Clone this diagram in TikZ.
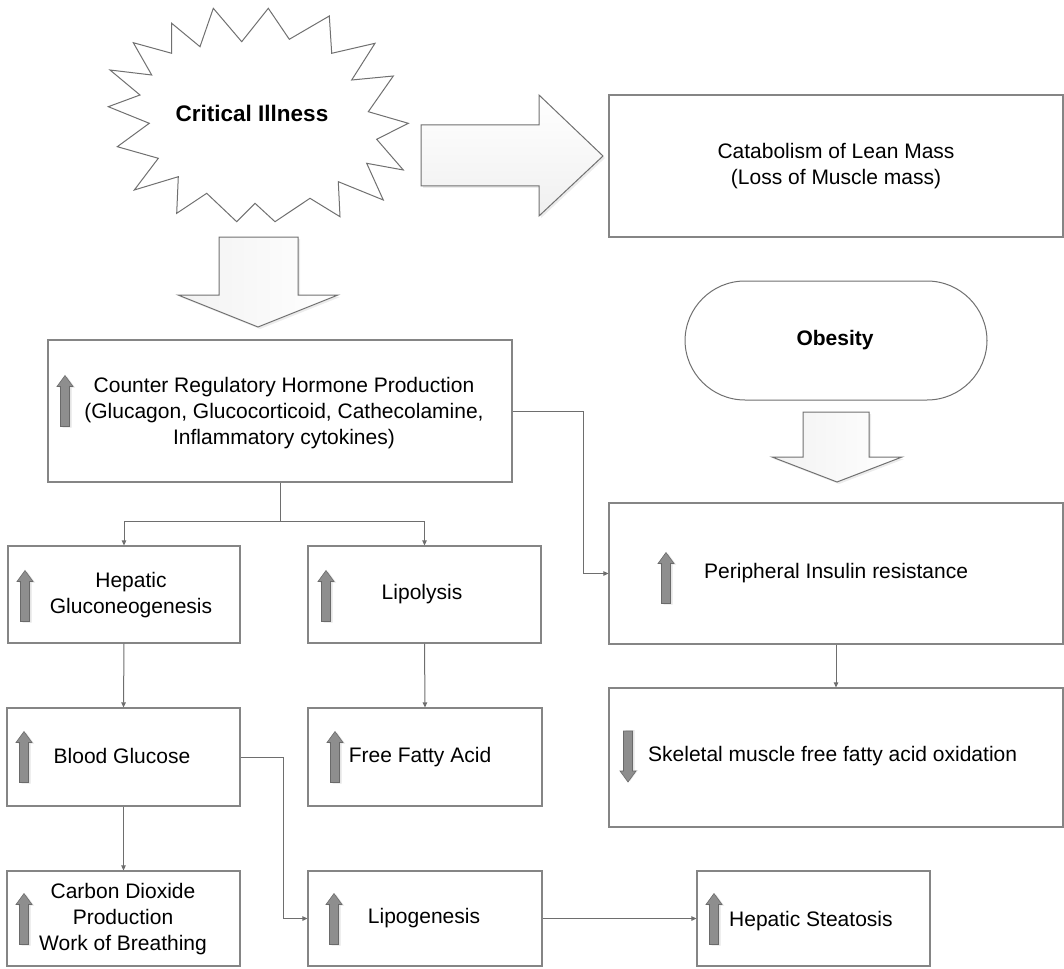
\documentclass[tikz,border=0pt]{standalone}
\usepackage{fontspec}
\setmainfont{Liberation Sans}
\usetikzlibrary{arrows.meta,shadows}
\definecolor{bord}{HTML}{858585}
\definecolor{lin}{HTML}{6E6E6E}
\definecolor{arrfill}{HTML}{8E8E8E}
\definecolor{arrdraw}{HTML}{6A6A6A}
\definecolor{bigdraw}{HTML}{707070}
\tikzset{
  box/.style={draw=bord, line width=1.2pt, fill=white, inner sep=0pt},
  txt/.style={align=center, inner sep=0pt, font=\fontsize{21}{26}\selectfont},
  conn/.style={draw=lin, line width=1pt, -{Triangle[length=5pt,width=4.5pt]}},
  plainconn/.style={draw=lin, line width=1pt},
  bigarrow/.style={draw=bigdraw, line width=1pt, drop shadow={shadow xshift=2pt, shadow yshift=-2pt, fill=gray!25, opacity=0.6}},
  uparr/.pic={
    \fill[gray!20] (-2.5,26.5) -- (-2.5,-13.5) -- (-6,-13.5) -- (2,-24.5) -- (10,-13.5) -- (6.5,-13.5) -- (6.5,26.5) -- cycle;
    \draw[draw=arrdraw, fill=arrfill, line width=0.6pt] (-4.5,25.5) -- (-4.5,-14.5) -- (-8,-14.5) -- (0,-25.5) -- (8,-14.5) -- (4.5,-14.5) -- (4.5,25.5) -- cycle;
  },
  downarr/.pic={
    \fill[gray!20] (-2.5,-26.5) -- (-2.5,13.5) -- (-6,13.5) -- (2,24.5) -- (10,13.5) -- (6.5,13.5) -- (6.5,-26.5) -- cycle;
    \draw[draw=arrdraw, fill=arrfill, line width=0.6pt] (-4.5,-25.5) -- (-4.5,14.5) -- (-8,14.5) -- (0,25.5) -- (8,14.5) -- (4.5,14.5) -- (4.5,-25.5) -- cycle;
  }
}
\begin{document}
\begin{tikzpicture}[x=1pt, y=-1pt]
\useasboundingbox (0,0) rectangle (1064,968);

% Critical illness star
\draw[draw=bigdraw, line width=1pt, fill=white]
 (213.3,8.3) -- (241.7,41.7) -- (268.3,8.3) -- (289.3,39.3) -- (329.3,16) -- (331.7,53.3)
 -- (375,43.3) -- (351.7,80) -- (393.3,76) -- (368.3,111.7) -- (408.3,123.3) -- (376.7,139.3)
 -- (403.3,170) -- (366.7,163.3) -- (383.3,200) -- (338.3,181.7) -- (340,216.7) -- (310,198.3)
 -- (275,221.7) -- (255,203.3) -- (236.7,221.7) -- (206.7,193.3) -- (176.7,213.3) -- (178.3,176.7)
 -- (134.3,190) -- (158.3,158.3) -- (117.3,146.7) -- (149.3,123.3) -- (108.3,106.7) -- (140,95)
 -- (110,70) -- (151.7,75) -- (133.3,42.7) -- (171.7,53.3) -- (171.7,23.3) -- (200,46.7) -- cycle;
\node[txt, font=\fontsize{22.5}{26}\selectfont\bfseries] (crit) at (252,113) {Critical Illness};

% big arrows
\path[bigarrow, top color=white, bottom color=gray!12]
 (421,125) -- (539,125) -- (539,95) -- (603,156) -- (539,216) -- (539,186) -- (421,186) -- cycle;
\path[bigarrow, left color=gray!10, right color=white]
 (219,237) -- (298,237) -- (298,295) -- (338,295) -- (258,327) -- (178,295) -- (219,295) -- cycle;
\path[bigarrow, left color=gray!10, right color=white]
 (803,412) -- (869,412) -- (869,457) -- (902,457) -- (837,482) -- (772,457) -- (803,457) -- cycle;

% boxes
\node[box, minimum width=454pt, minimum height=142pt] (cat) at (836,166) {};
\node[box, minimum width=464pt, minimum height=142pt] (counter) at (280,411) {};
\node[box, minimum width=232pt, minimum height=97pt] (hep) at (124,594.5) {};
\node[box, minimum width=233pt, minimum height=97pt] (lip) at (424.5,594.5) {};
\node[box, minimum width=454pt, minimum height=141pt] (periph) at (836,573.5) {};
\node[box, minimum width=454pt, minimum height=139pt] (skel) at (836,757.5) {};
\node[box, minimum width=233pt, minimum height=98pt] (blood) at (123.5,757) {};
\node[box, minimum width=234pt, minimum height=98pt] (ffa) at (425,757) {};
\node[box, minimum width=233pt, minimum height=95pt] (carbon) at (123.5,918.5) {};
\node[box, minimum width=234pt, minimum height=95pt] (lipo) at (425,918.5) {};
\node[box, minimum width=233pt, minimum height=95pt] (steat) at (813.5,918.5) {};
\node[draw=bigdraw, line width=1pt, fill=white, rounded corners=60pt, minimum width=302pt, minimum height=119pt, inner sep=0pt] (obes) at (836,340.5) {};

% texts
\node[txt] (catT) at (836,166) {Catabolism of Lean Mass\\(Loss of Muscle mass)};
\node[txt, font=\fontsize{21}{26}\selectfont\bfseries] (obesT) at (835,340) {Obesity};
\node[txt] (counterT) at (284,413) {Counter Regulatory Hormone Production\\(Glucagon, Glucocorticoid, Cathecolamine,\\Inflammatory cytokines)};
\node[txt] (hepT) at (131,595) {Hepatic\\Gluconeogenesis};
\node[txt] (lipT) at (422,594) {Lipolysis};
\node[txt, anchor=west] (periphT) at (704,573) {Peripheral Insulin resistance};
\node[txt, anchor=west] (skelT) at (648,756) {Skeletal muscle free fatty acid oxidation};
\node[txt] (bloodT) at (122,756) {Blood Glucose};
\node[txt] (ffaT) at (420,757) {Free Fatty Acid};
\node[txt] (carbonT) at (123,919) {Carbon Dioxide\\Production\\Work of Breathing};
\node[txt] (lipoT) at (424,918) {Lipogenesis};
\node[txt, anchor=west] (steatT) at (729,921) {Hepatic Steatosis};

% small arrows
\pic at (65,401) {uparr};
\pic at (25,596) {uparr};
\pic at (326,596) {uparr};
\pic at (666,578) {uparr};
\pic at (628,756.5) {downarr};
\pic at (24,757) {uparr};
\pic at (335,757) {uparr};
\pic at (24,919) {uparr};
\pic at (334,919) {uparr};
\pic at (714,919) {uparr};

% connectors
\coordinate (split) at (280,521);
\draw[plainconn] (counter.south) -- (split);
\draw[conn] (split) -| (hep.north);
\draw[conn] (split) -| (lip.north);
\coordinate (cbend) at (583,411);
\draw[conn] (counter.east) -- (cbend) |- (periph.west);
\draw[conn] (periph.south) -- (skel.north);
\draw[conn] (hep.south) -- (blood.north);
\draw[conn] (lip.south) -- (ffa.north);
\draw[conn] (blood.south) -- (carbon.north);
\coordinate (bbend) at (283,757);
\draw[conn] (blood.east) -- (bbend) |- (lipo.west);
\draw[conn] (lipo.east) -- (steat.west);
\end{tikzpicture}
\end{document}
